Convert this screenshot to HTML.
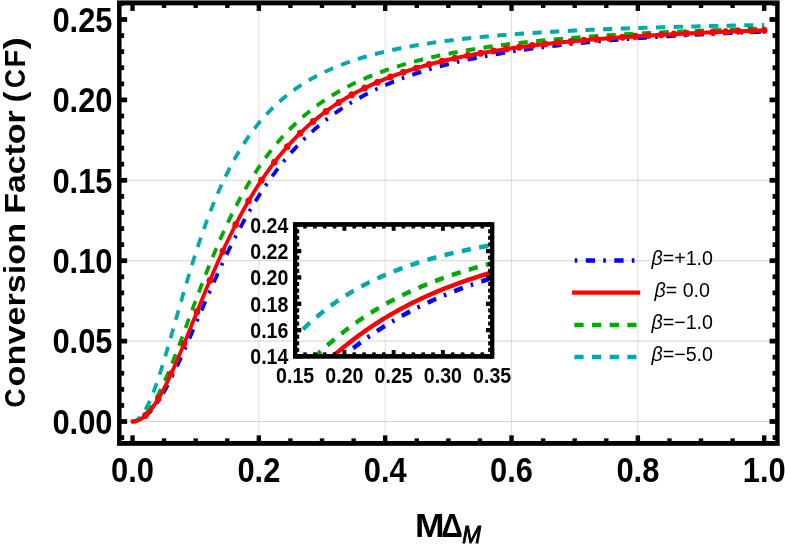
<!DOCTYPE html>
<html><head><meta charset="utf-8"><title>Conversion Factor</title>
<style>html,body{margin:0;padding:0;background:#fff}svg{display:block;will-change:transform}text{font-family:"Liberation Sans",sans-serif;fill:#000}</style>
</head><body>
<svg width="785" height="545" viewBox="0 0 785 545">
<rect x="0" y="0" width="785" height="545" fill="#ffffff"/>
<defs><clipPath id="cm"><rect x="119.30" y="2.67" width="658.10" height="405.99"/></clipPath>
<clipPath id="ci"><rect x="295.15" y="206.87" width="197.05" height="121.61"/></clipPath></defs>
<g transform="scale(1 1.0850)">
<g stroke="#d0d0d0" stroke-width="1" fill="none">
<line x1="258.84" y1="2.67" x2="258.84" y2="408.66" stroke="#dddddd"/>
<line x1="385.18" y1="2.67" x2="385.18" y2="408.66" stroke="#dddddd"/>
<line x1="511.52" y1="2.67" x2="511.52" y2="408.66" stroke="#dddddd"/>
<line x1="637.86" y1="2.67" x2="637.86" y2="408.66" stroke="#dddddd"/>
<line x1="119.30" y1="92.07" x2="777.40" y2="92.07" stroke="#ffffff"/>
<line x1="119.30" y1="388.48" x2="777.40" y2="388.48" stroke-width="0.92"/>
<line x1="119.30" y1="314.38" x2="777.40" y2="314.38" stroke-width="0.92"/>
<line x1="119.30" y1="240.28" x2="777.40" y2="240.28" stroke-width="0.92"/>
<line x1="119.30" y1="166.18" x2="777.40" y2="166.18" stroke-width="0.92"/>
</g>
<g clip-path="url(#cm)" fill="none" stroke-width="3.70">
<path d="M132.50 388.48 L134.08 388.41 L135.66 388.18 L137.24 387.81 L138.82 387.30 L140.40 386.64 L141.98 385.83 L143.55 384.88 L145.13 383.80 L146.71 382.57 L148.29 381.21 L149.87 379.72 L151.45 378.11 L153.03 376.37 L154.61 374.50 L156.19 372.52 L157.77 370.43 L159.35 368.23 L160.93 365.93 L162.51 363.53 L164.09 361.03 L165.66 358.45 L167.24 355.78 L168.82 353.03 L170.40 350.21 L171.98 347.31 L173.56 344.35 L175.14 341.33 L176.72 338.26 L178.30 335.13 L179.88 331.96 L181.46 328.75 L183.04 325.50 L184.62 322.22 L186.19 318.90 L187.77 315.57 L189.35 312.21 L190.93 308.84 L192.51 305.45 L194.09 302.06 L195.67 298.66 L197.25 295.26 L198.83 291.85 L200.41 288.45 L201.99 285.06 L203.57 281.68 L205.15 278.31 L206.72 274.95 L208.30 271.61 L209.88 268.28 L211.46 264.98 L213.04 261.69 L214.62 258.44 L216.20 255.20 L217.78 252.00 L219.36 248.82 L220.94 245.67 L222.52 242.55 L224.10 239.46 L225.68 236.41 L227.25 233.38 L228.83 230.39 L230.41 227.44 L231.99 224.52 L233.57 221.64 L235.15 218.79 L236.73 215.98 L238.31 213.20 L239.89 210.46 L241.47 207.76 L243.05 205.10 L244.63 202.47 L246.21 199.88 L247.79 197.33 L249.36 194.81 L250.94 192.33 L252.52 189.89 L254.10 187.48 L255.68 185.11 L257.26 182.77 L258.84 180.48 L260.42 178.21 L262.00 175.98 L263.58 173.79 L265.16 171.63 L266.74 169.51 L268.32 167.42 L269.89 165.36 L271.47 163.34 L273.05 161.35 L274.63 159.39 L276.21 157.46 L277.79 155.56 L279.37 153.70 L280.95 151.86 L282.53 150.06 L284.11 148.29 L285.69 146.54 L287.27 144.82 L288.85 143.14 L290.43 141.47 L292.00 139.84 L293.58 138.24 L295.16 136.66 L296.74 135.10 L298.32 133.58 L299.90 132.07 L301.48 130.60 L303.06 129.14 L304.64 127.71 L306.22 126.31 L307.80 124.93 L309.38 123.57 L310.96 122.23 L312.53 120.91 L314.11 119.62 L315.69 118.35 L317.27 117.10 L318.85 115.87 L320.43 114.65 L322.01 113.46 L323.59 112.29 L325.17 111.14 L326.75 110.01 L328.33 108.89 L329.91 107.79 L331.49 106.71 L333.06 105.65 L334.64 104.60 L336.22 103.58 L337.80 102.56 L339.38 101.57 L340.96 100.59 L342.54 99.62 L344.12 98.67 L345.70 97.74 L347.28 96.82 L348.86 95.91 L350.44 95.02 L352.02 94.14 L353.60 93.28 L355.17 92.43 L356.75 91.59 L358.33 90.77 L359.91 89.95 L361.49 89.16 L363.07 88.37 L364.65 87.59 L366.23 86.83 L367.81 86.08 L369.39 85.34 L370.97 84.61 L372.55 83.89 L374.13 83.18 L375.70 82.48 L377.28 81.80 L378.86 81.12 L380.44 80.45 L382.02 79.80 L383.60 79.15 L385.18 78.51 L386.76 77.88 L388.34 77.26 L389.92 76.65 L391.50 76.05 L393.08 75.46 L394.66 74.88 L396.23 74.30 L397.81 73.73 L399.39 73.17 L400.97 72.62 L402.55 72.08 L404.13 71.54 L405.71 71.01 L407.29 70.49 L408.87 69.97 L410.45 69.47 L412.03 68.97 L413.61 68.47 L415.19 67.99 L416.77 67.51 L418.34 67.03 L419.92 66.56 L421.50 66.10 L423.08 65.65 L424.66 65.20 L426.24 64.76 L427.82 64.32 L429.40 63.89 L430.98 63.47 L432.56 63.05 L434.14 62.63 L435.72 62.22 L437.30 61.82 L438.87 61.42 L440.45 61.03 L442.03 60.64 L443.61 60.26 L445.19 59.88 L446.77 59.51 L448.35 59.14 L449.93 58.78 L451.51 58.42 L453.09 58.06 L454.67 57.71 L456.25 57.37 L457.83 57.03 L459.40 56.69 L460.98 56.36 L462.56 56.03 L464.14 55.70 L465.72 55.38 L467.30 55.06 L468.88 54.75 L470.46 54.44 L472.04 54.14 L473.62 53.84 L475.20 53.54 L476.78 53.24 L478.36 52.95 L479.94 52.66 L481.51 52.38 L483.09 52.10 L484.67 51.82 L486.25 51.55 L487.83 51.28 L489.41 51.01 L490.99 50.74 L492.57 50.48 L494.15 50.22 L495.73 49.97 L497.31 49.72 L498.89 49.47 L500.47 49.22 L502.04 48.97 L503.62 48.73 L505.20 48.49 L506.78 48.26 L508.36 48.02 L509.94 47.79 L511.52 47.57 L513.10 47.34 L514.68 47.12 L516.26 46.90 L517.84 46.68 L519.42 46.46 L521.00 46.25 L522.57 46.04 L524.15 45.83 L525.73 45.62 L527.31 45.42 L528.89 45.22 L530.47 45.02 L532.05 44.82 L533.63 44.62 L535.21 44.43 L536.79 44.24 L538.37 44.05 L539.95 43.86 L541.53 43.67 L543.11 43.49 L544.68 43.31 L546.26 43.13 L547.84 42.95 L549.42 42.77 L551.00 42.60 L552.58 42.43 L554.16 42.26 L555.74 42.09 L557.32 41.92 L558.90 41.75 L560.48 41.59 L562.06 41.43 L563.64 41.27 L565.21 41.11 L566.79 40.95 L568.37 40.79 L569.95 40.64 L571.53 40.49 L573.11 40.33 L574.69 40.18 L576.27 40.04 L577.85 39.89 L579.43 39.74 L581.01 39.60 L582.59 39.46 L584.17 39.32 L585.74 39.18 L587.32 39.04 L588.90 38.90 L590.48 38.76 L592.06 38.63 L593.64 38.50 L595.22 38.36 L596.80 38.23 L598.38 38.10 L599.96 37.97 L601.54 37.85 L603.12 37.72 L604.70 37.60 L606.28 37.47 L607.85 37.35 L609.43 37.23 L611.01 37.11 L612.59 36.99 L614.17 36.87 L615.75 36.75 L617.33 36.64 L618.91 36.52 L620.49 36.41 L622.07 36.30 L623.65 36.18 L625.23 36.07 L626.81 35.96 L628.38 35.85 L629.96 35.75 L631.54 35.64 L633.12 35.53 L634.70 35.43 L636.28 35.32 L637.86 35.22 L639.44 35.12 L641.02 35.02 L642.60 34.92 L644.18 34.82 L645.76 34.72 L647.34 34.62 L648.91 34.52 L650.49 34.43 L652.07 34.33 L653.65 34.24 L655.23 34.14 L656.81 34.05 L658.39 33.96 L659.97 33.87 L661.55 33.78 L663.13 33.69 L664.71 33.60 L666.29 33.51 L667.87 33.42 L669.45 33.33 L671.02 33.25 L672.60 33.16 L674.18 33.08 L675.76 32.99 L677.34 32.91 L678.92 32.83 L680.50 32.74 L682.08 32.66 L683.66 32.58 L685.24 32.50 L686.82 32.42 L688.40 32.34 L689.98 32.27 L691.55 32.19 L693.13 32.11 L694.71 32.03 L696.29 31.96 L697.87 31.88 L699.45 31.81 L701.03 31.74 L702.61 31.66 L704.19 31.59 L705.77 31.52 L707.35 31.45 L708.93 31.37 L710.51 31.30 L712.08 31.23 L713.66 31.16 L715.24 31.10 L716.82 31.03 L718.40 30.96 L719.98 30.89 L721.56 30.83 L723.14 30.76 L724.72 30.69 L726.30 30.63 L727.88 30.56 L729.46 30.50 L731.04 30.44 L732.62 30.37 L734.19 30.31 L735.77 30.25 L737.35 30.19 L738.93 30.12 L740.51 30.06 L742.09 30.00 L743.67 29.94 L745.25 29.88 L746.83 29.82 L748.41 29.76 L749.99 29.71 L751.57 29.65 L753.15 29.59 L754.72 29.53 L756.30 29.48 L757.88 29.42 L759.46 29.36 L761.04 29.31 L762.62 29.25 L764.20 29.20" stroke="#0000ff" stroke-dasharray="2.6 8.45 9.3 8.2" stroke-dashoffset="-2.0"/>
<path d="M132.50 388.48 L134.08 388.38 L135.66 388.08 L137.24 387.59 L138.82 386.89 L140.40 386.01 L141.98 384.93 L143.55 383.66 L145.13 382.21 L146.71 380.59 L148.29 378.78 L149.87 376.81 L151.45 374.67 L153.03 372.38 L154.61 369.94 L156.19 367.35 L157.77 364.63 L159.35 361.78 L160.93 358.80 L162.51 355.71 L164.09 352.52 L165.66 349.22 L167.24 345.83 L168.82 342.36 L170.40 338.81 L171.98 335.20 L173.56 331.52 L175.14 327.78 L176.72 324.00 L178.30 320.18 L179.88 316.32 L181.46 312.43 L183.04 308.52 L184.62 304.59 L186.19 300.66 L187.77 296.71 L189.35 292.77 L190.93 288.83 L192.51 284.89 L194.09 280.97 L195.67 277.07 L197.25 273.18 L198.83 269.32 L200.41 265.49 L201.99 261.68 L203.57 257.90 L205.15 254.16 L206.72 250.46 L208.30 246.79 L209.88 243.17 L211.46 239.58 L213.04 236.04 L214.62 232.55 L216.20 229.10 L217.78 225.69 L219.36 222.34 L220.94 219.03 L222.52 215.77 L224.10 212.56 L225.68 209.40 L227.25 206.29 L228.83 203.22 L230.41 200.21 L231.99 197.25 L233.57 194.34 L235.15 191.47 L236.73 188.66 L238.31 185.89 L239.89 183.18 L241.47 180.51 L243.05 177.89 L244.63 175.32 L246.21 172.79 L247.79 170.31 L249.36 167.87 L250.94 165.48 L252.52 163.14 L254.10 160.84 L255.68 158.58 L257.26 156.36 L258.84 154.19 L260.42 152.06 L262.00 149.96 L263.58 147.91 L265.16 145.90 L266.74 143.92 L268.32 141.98 L269.89 140.08 L271.47 138.22 L273.05 136.39 L274.63 134.60 L276.21 132.84 L277.79 131.11 L279.37 129.42 L280.95 127.76 L282.53 126.13 L284.11 124.54 L285.69 122.97 L287.27 121.43 L288.85 119.93 L290.43 118.45 L292.00 117.00 L293.58 115.57 L295.16 114.18 L296.74 112.81 L298.32 111.46 L299.90 110.15 L301.48 108.85 L303.06 107.58 L304.64 106.34 L306.22 105.11 L307.80 103.91 L309.38 102.73 L310.96 101.58 L312.53 100.44 L314.11 99.33 L315.69 98.23 L317.27 97.16 L318.85 96.10 L320.43 95.07 L322.01 94.05 L323.59 93.05 L325.17 92.07 L326.75 91.11 L328.33 90.16 L329.91 89.23 L331.49 88.32 L333.06 87.43 L334.64 86.54 L336.22 85.68 L337.80 84.83 L339.38 83.99 L340.96 83.17 L342.54 82.36 L344.12 81.57 L345.70 80.79 L347.28 80.03 L348.86 79.27 L350.44 78.53 L352.02 77.80 L353.60 77.09 L355.17 76.38 L356.75 75.69 L358.33 75.01 L359.91 74.34 L361.49 73.68 L363.07 73.04 L364.65 72.40 L366.23 71.77 L367.81 71.16 L369.39 70.55 L370.97 69.95 L372.55 69.37 L374.13 68.79 L375.70 68.22 L377.28 67.66 L378.86 67.11 L380.44 66.57 L382.02 66.03 L383.60 65.51 L385.18 64.99 L386.76 64.48 L388.34 63.98 L389.92 63.49 L391.50 63.00 L393.08 62.52 L394.66 62.05 L396.23 61.59 L397.81 61.13 L399.39 60.68 L400.97 60.23 L402.55 59.80 L404.13 59.37 L405.71 58.94 L407.29 58.52 L408.87 58.11 L410.45 57.71 L412.03 57.31 L413.61 56.91 L415.19 56.52 L416.77 56.14 L418.34 55.76 L419.92 55.39 L421.50 55.02 L423.08 54.66 L424.66 54.30 L426.24 53.95 L427.82 53.61 L429.40 53.26 L430.98 52.93 L432.56 52.59 L434.14 52.26 L435.72 51.94 L437.30 51.62 L438.87 51.31 L440.45 51.00 L442.03 50.69 L443.61 50.39 L445.19 50.09 L446.77 49.80 L448.35 49.50 L449.93 49.22 L451.51 48.94 L453.09 48.66 L454.67 48.38 L456.25 48.11 L457.83 47.84 L459.40 47.58 L460.98 47.31 L462.56 47.06 L464.14 46.80 L465.72 46.55 L467.30 46.30 L468.88 46.06 L470.46 45.81 L472.04 45.57 L473.62 45.34 L475.20 45.11 L476.78 44.88 L478.36 44.65 L479.94 44.42 L481.51 44.20 L483.09 43.98 L484.67 43.77 L486.25 43.55 L487.83 43.34 L489.41 43.13 L490.99 42.92 L492.57 42.72 L494.15 42.52 L495.73 42.32 L497.31 42.12 L498.89 41.93 L500.47 41.74 L502.04 41.55 L503.62 41.36 L505.20 41.18 L506.78 40.99 L508.36 40.81 L509.94 40.63 L511.52 40.45 L513.10 40.28 L514.68 40.11 L516.26 39.94 L517.84 39.77 L519.42 39.60 L521.00 39.43 L522.57 39.27 L524.15 39.11 L525.73 38.95 L527.31 38.79 L528.89 38.63 L530.47 38.48 L532.05 38.33 L533.63 38.18 L535.21 38.03 L536.79 37.88 L538.37 37.73 L539.95 37.59 L541.53 37.44 L543.11 37.30 L544.68 37.16 L546.26 37.02 L547.84 36.89 L549.42 36.75 L551.00 36.62 L552.58 36.48 L554.16 36.35 L555.74 36.22 L557.32 36.09 L558.90 35.97 L560.48 35.84 L562.06 35.71 L563.64 35.59 L565.21 35.47 L566.79 35.35 L568.37 35.23 L569.95 35.11 L571.53 34.99 L573.11 34.88 L574.69 34.76 L576.27 34.65 L577.85 34.53 L579.43 34.42 L581.01 34.31 L582.59 34.20 L584.17 34.09 L585.74 33.99 L587.32 33.88 L588.90 33.77 L590.48 33.67 L592.06 33.57 L593.64 33.47 L595.22 33.36 L596.80 33.26 L598.38 33.16 L599.96 33.07 L601.54 32.97 L603.12 32.87 L604.70 32.78 L606.28 32.68 L607.85 32.59 L609.43 32.50 L611.01 32.40 L612.59 32.31 L614.17 32.22 L615.75 32.13 L617.33 32.04 L618.91 31.96 L620.49 31.87 L622.07 31.78 L623.65 31.70 L625.23 31.61 L626.81 31.53 L628.38 31.45 L629.96 31.36 L631.54 31.28 L633.12 31.20 L634.70 31.12 L636.28 31.04 L637.86 30.96 L639.44 30.89 L641.02 30.81 L642.60 30.73 L644.18 30.66 L645.76 30.58 L647.34 30.51 L648.91 30.43 L650.49 30.36 L652.07 30.29 L653.65 30.21 L655.23 30.14 L656.81 30.07 L658.39 30.00 L659.97 29.93 L661.55 29.86 L663.13 29.79 L664.71 29.73 L666.29 29.66 L667.87 29.59 L669.45 29.53 L671.02 29.46 L672.60 29.40 L674.18 29.33 L675.76 29.27 L677.34 29.20 L678.92 29.14 L680.50 29.08 L682.08 29.02 L683.66 28.96 L685.24 28.89 L686.82 28.83 L688.40 28.77 L689.98 28.72 L691.55 28.66 L693.13 28.60 L694.71 28.54 L696.29 28.48 L697.87 28.43 L699.45 28.37 L701.03 28.31 L702.61 28.26 L704.19 28.20 L705.77 28.15 L707.35 28.09 L708.93 28.04 L710.51 27.99 L712.08 27.93 L713.66 27.88 L715.24 27.83 L716.82 27.78 L718.40 27.72 L719.98 27.67 L721.56 27.62 L723.14 27.57 L724.72 27.52 L726.30 27.47 L727.88 27.42 L729.46 27.38 L731.04 27.33 L732.62 27.28 L734.19 27.23 L735.77 27.19 L737.35 27.14 L738.93 27.09 L740.51 27.05 L742.09 27.00 L743.67 26.95 L745.25 26.91 L746.83 26.86 L748.41 26.82 L749.99 26.78 L751.57 26.73 L753.15 26.69 L754.72 26.65 L756.30 26.60 L757.88 26.56 L759.46 26.52 L761.04 26.48 L762.62 26.43 L764.20 26.39" stroke="#00aa00" stroke-dasharray="9.2 8.46" stroke-dashoffset="1.5"/>
<path d="M132.50 388.48 L134.08 388.31 L135.66 387.81 L137.24 386.98 L138.82 385.83 L140.40 384.36 L141.98 382.57 L143.55 380.49 L145.13 378.11 L146.71 375.45 L148.29 372.52 L149.87 369.35 L151.45 365.93 L153.03 362.29 L154.61 358.45 L156.19 354.41 L157.77 350.21 L159.35 345.84 L160.93 341.33 L162.51 336.70 L164.09 331.96 L165.66 327.13 L167.24 322.22 L168.82 317.24 L170.40 312.21 L171.98 307.15 L173.56 302.06 L175.14 296.96 L176.72 291.85 L178.30 286.76 L179.88 281.68 L181.46 276.62 L183.04 271.61 L184.62 266.63 L186.19 261.69 L187.77 256.82 L189.35 252.00 L190.93 247.24 L192.51 242.55 L194.09 237.93 L195.67 233.38 L197.25 228.91 L198.83 224.52 L200.41 220.21 L201.99 215.98 L203.57 211.83 L205.15 207.76 L206.72 203.78 L208.30 199.88 L209.88 196.06 L211.46 192.33 L213.04 188.68 L214.62 185.11 L216.20 181.62 L217.78 178.21 L219.36 174.88 L220.94 171.63 L222.52 168.46 L224.10 165.36 L225.68 162.34 L227.25 159.39 L228.83 156.51 L230.41 153.70 L231.99 150.96 L233.57 148.29 L235.15 145.68 L236.73 143.14 L238.31 140.65 L239.89 138.24 L241.47 135.88 L243.05 133.58 L244.63 131.33 L246.21 129.14 L247.79 127.01 L249.36 124.93 L250.94 122.89 L252.52 120.91 L254.10 118.98 L255.68 117.10 L257.26 115.26 L258.84 113.46 L260.42 111.71 L262.00 110.01 L263.58 108.34 L265.16 106.71 L266.74 105.12 L268.32 103.58 L269.89 102.06 L271.47 100.59 L273.05 99.14 L274.63 97.74 L276.21 96.36 L277.79 95.02 L279.37 93.71 L280.95 92.43 L282.53 91.18 L284.11 89.95 L285.69 88.76 L287.27 87.59 L288.85 86.45 L290.43 85.34 L292.00 84.25 L293.58 83.18 L295.16 82.14 L296.74 81.12 L298.32 80.12 L299.90 79.15 L301.48 78.20 L303.06 77.26 L304.64 76.35 L306.22 75.46 L307.80 74.59 L309.38 73.73 L310.96 72.89 L312.53 72.08 L314.11 71.27 L315.69 70.49 L317.27 69.72 L318.85 68.97 L320.43 68.23 L322.01 67.51 L323.59 66.80 L325.17 66.10 L326.75 65.42 L328.33 64.76 L329.91 64.11 L331.49 63.47 L333.06 62.84 L334.64 62.22 L336.22 61.62 L337.80 61.03 L339.38 60.45 L340.96 59.88 L342.54 59.32 L344.12 58.78 L345.70 58.24 L347.28 57.71 L348.86 57.20 L350.44 56.69 L352.02 56.19 L353.60 55.70 L355.17 55.22 L356.75 54.75 L358.33 54.29 L359.91 53.84 L361.49 53.39 L363.07 52.95 L364.65 52.52 L366.23 52.10 L367.81 51.68 L369.39 51.28 L370.97 50.88 L372.55 50.48 L374.13 50.10 L375.70 49.72 L377.28 49.34 L378.86 48.97 L380.44 48.61 L382.02 48.26 L383.60 47.91 L385.18 47.57 L386.76 47.23 L388.34 46.90 L389.92 46.57 L391.50 46.25 L393.08 45.93 L394.66 45.62 L396.23 45.32 L397.81 45.02 L399.39 44.72 L400.97 44.43 L402.55 44.14 L404.13 43.86 L405.71 43.58 L407.29 43.31 L408.87 43.04 L410.45 42.77 L412.03 42.51 L413.61 42.26 L415.19 42.00 L416.77 41.75 L418.34 41.51 L419.92 41.27 L421.50 41.03 L423.08 40.79 L424.66 40.56 L426.24 40.33 L427.82 40.11 L429.40 39.89 L430.98 39.67 L432.56 39.46 L434.14 39.25 L435.72 39.04 L437.30 38.83 L438.87 38.63 L440.45 38.43 L442.03 38.23 L443.61 38.04 L445.19 37.85 L446.77 37.66 L448.35 37.47 L449.93 37.29 L451.51 37.11 L453.09 36.93 L454.67 36.75 L456.25 36.58 L457.83 36.41 L459.40 36.24 L460.98 36.07 L462.56 35.91 L464.14 35.75 L465.72 35.59 L467.30 35.43 L468.88 35.27 L470.46 35.12 L472.04 34.97 L473.62 34.82 L475.20 34.67 L476.78 34.52 L478.36 34.38 L479.94 34.24 L481.51 34.10 L483.09 33.96 L484.67 33.82 L486.25 33.69 L487.83 33.55 L489.41 33.42 L490.99 33.29 L492.57 33.16 L494.15 33.03 L495.73 32.91 L497.31 32.79 L498.89 32.66 L500.47 32.54 L502.04 32.42 L503.62 32.30 L505.20 32.19 L506.78 32.07 L508.36 31.96 L509.94 31.85 L511.52 31.74 L513.10 31.63 L514.68 31.52 L516.26 31.41 L517.84 31.30 L519.42 31.20 L521.00 31.10 L522.57 30.99 L524.15 30.89 L525.73 30.79 L527.31 30.69 L528.89 30.60 L530.47 30.50 L532.05 30.40 L533.63 30.31 L535.21 30.22 L536.79 30.12 L538.37 30.03 L539.95 29.94 L541.53 29.85 L543.11 29.76 L544.68 29.68 L546.26 29.59 L547.84 29.51 L549.42 29.42 L551.00 29.34 L552.58 29.25 L554.16 29.17 L555.74 29.09 L557.32 29.01 L558.90 28.93 L560.48 28.85 L562.06 28.78 L563.64 28.70 L565.21 28.62 L566.79 28.55 L568.37 28.47 L569.95 28.40 L571.53 28.33 L573.11 28.26 L574.69 28.18 L576.27 28.11 L577.85 28.04 L579.43 27.98 L581.01 27.91 L582.59 27.84 L584.17 27.77 L585.74 27.71 L587.32 27.64 L588.90 27.57 L590.48 27.51 L592.06 27.45 L593.64 27.38 L595.22 27.32 L596.80 27.26 L598.38 27.20 L599.96 27.14 L601.54 27.08 L603.12 27.02 L604.70 26.96 L606.28 26.90 L607.85 26.84 L609.43 26.79 L611.01 26.73 L612.59 26.67 L614.17 26.62 L615.75 26.56 L617.33 26.51 L618.91 26.45 L620.49 26.40 L622.07 26.35 L623.65 26.29 L625.23 26.24 L626.81 26.19 L628.38 26.14 L629.96 26.09 L631.54 26.04 L633.12 25.99 L634.70 25.94 L636.28 25.89 L637.86 25.84 L639.44 25.79 L641.02 25.75 L642.60 25.70 L644.18 25.65 L645.76 25.61 L647.34 25.56 L648.91 25.52 L650.49 25.47 L652.07 25.43 L653.65 25.38 L655.23 25.34 L656.81 25.29 L658.39 25.25 L659.97 25.21 L661.55 25.17 L663.13 25.12 L664.71 25.08 L666.29 25.04 L667.87 25.00 L669.45 24.96 L671.02 24.92 L672.60 24.88 L674.18 24.84 L675.76 24.80 L677.34 24.76 L678.92 24.72 L680.50 24.69 L682.08 24.65 L683.66 24.61 L685.24 24.57 L686.82 24.54 L688.40 24.50 L689.98 24.46 L691.55 24.43 L693.13 24.39 L694.71 24.36 L696.29 24.32 L697.87 24.29 L699.45 24.25 L701.03 24.22 L702.61 24.18 L704.19 24.15 L705.77 24.12 L707.35 24.08 L708.93 24.05 L710.51 24.02 L712.08 23.99 L713.66 23.95 L715.24 23.92 L716.82 23.89 L718.40 23.86 L719.98 23.83 L721.56 23.80 L723.14 23.77 L724.72 23.74 L726.30 23.71 L727.88 23.68 L729.46 23.65 L731.04 23.62 L732.62 23.59 L734.19 23.56 L735.77 23.53 L737.35 23.50 L738.93 23.47 L740.51 23.45 L742.09 23.42 L743.67 23.39 L745.25 23.36 L746.83 23.33 L748.41 23.31 L749.99 23.28 L751.57 23.25 L753.15 23.23 L754.72 23.20 L756.30 23.18 L757.88 23.15 L759.46 23.12 L761.04 23.10 L762.62 23.07 L764.20 23.05" stroke="#00aaaa" stroke-dasharray="9.2 8.46" stroke-dashoffset="0"/>
<path d="M132.50 388.48 L134.08 388.40 L135.66 388.15 L137.24 387.73 L138.82 387.15 L140.40 386.41 L141.98 385.50 L143.55 384.44 L145.13 383.22 L146.71 381.85 L148.29 380.33 L149.87 378.66 L151.45 376.85 L153.03 374.91 L154.61 372.83 L156.19 370.63 L157.77 368.30 L159.35 365.86 L160.93 363.30 L162.51 360.65 L164.09 357.89 L165.66 355.03 L167.24 352.09 L168.82 349.07 L170.40 345.97 L171.98 342.80 L173.56 339.57 L175.14 336.27 L176.72 332.92 L178.30 329.53 L179.88 326.09 L181.46 322.61 L183.04 319.10 L184.62 315.56 L186.19 312.00 L187.77 308.42 L189.35 304.83 L190.93 301.23 L192.51 297.62 L194.09 294.01 L195.67 290.40 L197.25 286.80 L198.83 283.21 L200.41 279.63 L201.99 276.06 L203.57 272.51 L205.15 268.98 L206.72 265.47 L208.30 261.98 L209.88 258.53 L211.46 255.10 L213.04 251.70 L214.62 248.33 L216.20 245.00 L217.78 241.69 L219.36 238.43 L220.94 235.20 L222.52 232.01 L224.10 228.86 L225.68 225.75 L227.25 222.67 L228.83 219.64 L230.41 216.65 L231.99 213.69 L233.57 210.78 L235.15 207.92 L236.73 205.09 L238.31 202.30 L239.89 199.56 L241.47 196.86 L243.05 194.19 L244.63 191.57 L246.21 189.00 L247.79 186.46 L249.36 183.96 L250.94 181.51 L252.52 179.09 L254.10 176.71 L255.68 174.38 L257.26 172.08 L258.84 169.82 L260.42 167.60 L262.00 165.41 L263.58 163.27 L265.16 161.16 L266.74 159.08 L268.32 157.05 L269.89 155.04 L271.47 153.08 L273.05 151.14 L274.63 149.24 L276.21 147.37 L277.79 145.54 L279.37 143.74 L280.95 141.97 L282.53 140.23 L284.11 138.52 L285.69 136.84 L287.27 135.19 L288.85 133.57 L290.43 131.97 L292.00 130.41 L293.58 128.87 L295.16 127.36 L296.74 125.88 L298.32 124.42 L299.90 122.99 L301.48 121.58 L303.06 120.20 L304.64 118.84 L306.22 117.50 L307.80 116.19 L309.38 114.90 L310.96 113.64 L312.53 112.39 L314.11 111.17 L315.69 109.96 L317.27 108.78 L318.85 107.62 L320.43 106.48 L322.01 105.36 L323.59 104.25 L325.17 103.17 L326.75 102.10 L328.33 101.05 L329.91 100.02 L331.49 99.01 L333.06 98.01 L334.64 97.03 L336.22 96.07 L337.80 95.12 L339.38 94.19 L340.96 93.27 L342.54 92.37 L344.12 91.48 L345.70 90.61 L347.28 89.75 L348.86 88.91 L350.44 88.08 L352.02 87.26 L353.60 86.46 L355.17 85.67 L356.75 84.89 L358.33 84.12 L359.91 83.37 L361.49 82.63 L363.07 81.90 L364.65 81.18 L366.23 80.47 L367.81 79.77 L369.39 79.09 L370.97 78.41 L372.55 77.75 L374.13 77.09 L375.70 76.45 L377.28 75.81 L378.86 75.19 L380.44 74.57 L382.02 73.97 L383.60 73.37 L385.18 72.78 L386.76 72.20 L388.34 71.63 L389.92 71.07 L391.50 70.51 L393.08 69.97 L394.66 69.43 L396.23 68.90 L397.81 68.38 L399.39 67.86 L400.97 67.36 L402.55 66.86 L404.13 66.36 L405.71 65.88 L407.29 65.40 L408.87 64.93 L410.45 64.46 L412.03 64.00 L413.61 63.55 L415.19 63.11 L416.77 62.67 L418.34 62.23 L419.92 61.80 L421.50 61.38 L423.08 60.97 L424.66 60.56 L426.24 60.15 L427.82 59.75 L429.40 59.36 L430.98 58.97 L432.56 58.59 L434.14 58.21 L435.72 57.84 L437.30 57.47 L438.87 57.10 L440.45 56.75 L442.03 56.39 L443.61 56.04 L445.19 55.70 L446.77 55.36 L448.35 55.02 L449.93 54.69 L451.51 54.36 L453.09 54.04 L454.67 53.72 L456.25 53.41 L457.83 53.10 L459.40 52.79 L460.98 52.49 L462.56 52.19 L464.14 51.89 L465.72 51.60 L467.30 51.31 L468.88 51.03 L470.46 50.75 L472.04 50.47 L473.62 50.20 L475.20 49.93 L476.78 49.66 L478.36 49.39 L479.94 49.13 L481.51 48.88 L483.09 48.62 L484.67 48.37 L486.25 48.12 L487.83 47.87 L489.41 47.63 L490.99 47.39 L492.57 47.15 L494.15 46.92 L495.73 46.69 L497.31 46.46 L498.89 46.23 L500.47 46.01 L502.04 45.79 L503.62 45.57 L505.20 45.35 L506.78 45.14 L508.36 44.93 L509.94 44.72 L511.52 44.51 L513.10 44.31 L514.68 44.11 L516.26 43.91 L517.84 43.71 L519.42 43.51 L521.00 43.32 L522.57 43.13 L524.15 42.94 L525.73 42.76 L527.31 42.57 L528.89 42.39 L530.47 42.21 L532.05 42.03 L533.63 41.85 L535.21 41.68 L536.79 41.50 L538.37 41.33 L539.95 41.16 L541.53 40.99 L543.11 40.83 L544.68 40.66 L546.26 40.50 L547.84 40.34 L549.42 40.18 L551.00 40.03 L552.58 39.87 L554.16 39.72 L555.74 39.56 L557.32 39.41 L558.90 39.26 L560.48 39.11 L562.06 38.97 L563.64 38.82 L565.21 38.68 L566.79 38.54 L568.37 38.40 L569.95 38.26 L571.53 38.12 L573.11 37.98 L574.69 37.85 L576.27 37.72 L577.85 37.58 L579.43 37.45 L581.01 37.32 L582.59 37.19 L584.17 37.07 L585.74 36.94 L587.32 36.82 L588.90 36.69 L590.48 36.57 L592.06 36.45 L593.64 36.33 L595.22 36.21 L596.80 36.09 L598.38 35.98 L599.96 35.86 L601.54 35.75 L603.12 35.63 L604.70 35.52 L606.28 35.41 L607.85 35.30 L609.43 35.19 L611.01 35.08 L612.59 34.97 L614.17 34.87 L615.75 34.76 L617.33 34.66 L618.91 34.55 L620.49 34.45 L622.07 34.35 L623.65 34.25 L625.23 34.15 L626.81 34.05 L628.38 33.95 L629.96 33.86 L631.54 33.76 L633.12 33.67 L634.70 33.57 L636.28 33.48 L637.86 33.38 L639.44 33.29 L641.02 33.20 L642.60 33.11 L644.18 33.02 L645.76 32.93 L647.34 32.84 L648.91 32.76 L650.49 32.67 L652.07 32.59 L653.65 32.50 L655.23 32.42 L656.81 32.33 L658.39 32.25 L659.97 32.17 L661.55 32.09 L663.13 32.01 L664.71 31.93 L666.29 31.85 L667.87 31.77 L669.45 31.69 L671.02 31.61 L672.60 31.54 L674.18 31.46 L675.76 31.38 L677.34 31.31 L678.92 31.24 L680.50 31.16 L682.08 31.09 L683.66 31.02 L685.24 30.94 L686.82 30.87 L688.40 30.80 L689.98 30.73 L691.55 30.66 L693.13 30.59 L694.71 30.53 L696.29 30.46 L697.87 30.39 L699.45 30.32 L701.03 30.26 L702.61 30.19 L704.19 30.13 L705.77 30.06 L707.35 30.00 L708.93 29.93 L710.51 29.87 L712.08 29.81 L713.66 29.75 L715.24 29.68 L716.82 29.62 L718.40 29.56 L719.98 29.50 L721.56 29.44 L723.14 29.38 L724.72 29.32 L726.30 29.26 L727.88 29.21 L729.46 29.15 L731.04 29.09 L732.62 29.04 L734.19 28.98 L735.77 28.92 L737.35 28.87 L738.93 28.81 L740.51 28.76 L742.09 28.70 L743.67 28.65 L745.25 28.60 L746.83 28.54 L748.41 28.49 L749.99 28.44 L751.57 28.39 L753.15 28.34 L754.72 28.28 L756.30 28.23 L757.88 28.18 L759.46 28.13 L761.04 28.08 L762.62 28.03 L764.20 27.99" stroke="#ff0000" stroke-linecap="square"/>
</g>
<g fill="#ff0000">
<circle cx="145.39" cy="383.01" r="3.25"/>
<circle cx="158.28" cy="367.52" r="3.25"/>
<circle cx="171.18" cy="344.43" r="3.25"/>
<circle cx="184.07" cy="316.79" r="3.25"/>
<circle cx="196.96" cy="287.46" r="3.25"/>
<circle cx="209.85" cy="258.60" r="3.25"/>
<circle cx="222.74" cy="231.56" r="3.25"/>
<circle cx="235.63" cy="207.05" r="3.25"/>
<circle cx="248.53" cy="185.28" r="3.25"/>
<circle cx="261.42" cy="166.21" r="3.25"/>
<circle cx="274.31" cy="149.63" r="3.25"/>
<circle cx="287.20" cy="135.25" r="3.25"/>
<circle cx="300.09" cy="122.81" r="3.25"/>
<circle cx="312.99" cy="112.04" r="3.25"/>
<circle cx="325.88" cy="102.69" r="3.25"/>
<circle cx="338.77" cy="94.55" r="3.25"/>
<circle cx="351.66" cy="87.44" r="3.25"/>
<circle cx="364.55" cy="81.22" r="3.25"/>
<circle cx="377.44" cy="75.75" r="3.25"/>
<circle cx="390.34" cy="70.92" r="3.25"/>
<circle cx="403.23" cy="66.64" r="3.25"/>
<circle cx="416.12" cy="62.84" r="3.25"/>
<circle cx="429.01" cy="59.45" r="3.25"/>
<circle cx="441.90" cy="56.42" r="3.25"/>
<circle cx="454.80" cy="53.70" r="3.25"/>
<circle cx="467.69" cy="51.24" r="3.25"/>
<circle cx="480.58" cy="49.03" r="3.25"/>
<circle cx="493.47" cy="47.02" r="3.25"/>
<circle cx="506.36" cy="45.20" r="3.25"/>
<circle cx="519.26" cy="43.53" r="3.25"/>
<circle cx="532.15" cy="42.02" r="3.25"/>
<circle cx="545.04" cy="40.63" r="3.25"/>
<circle cx="557.93" cy="39.35" r="3.25"/>
<circle cx="570.82" cy="38.18" r="3.25"/>
<circle cx="583.71" cy="37.10" r="3.25"/>
<circle cx="596.61" cy="36.11" r="3.25"/>
<circle cx="609.50" cy="35.18" r="3.25"/>
<circle cx="622.39" cy="34.33" r="3.25"/>
<circle cx="635.28" cy="33.54" r="3.25"/>
<circle cx="648.17" cy="32.80" r="3.25"/>
<circle cx="661.07" cy="32.11" r="3.25"/>
<circle cx="673.96" cy="31.47" r="3.25"/>
<circle cx="686.85" cy="30.87" r="3.25"/>
<circle cx="699.74" cy="30.31" r="3.25"/>
<circle cx="712.63" cy="29.79" r="3.25"/>
<circle cx="725.52" cy="29.29" r="3.25"/>
<circle cx="738.42" cy="28.83" r="3.25"/>
<circle cx="751.31" cy="28.40" r="3.25"/>
<circle cx="764.20" cy="27.99" r="3.25"/>
</g>
<rect x="119.30" y="2.67" width="658.10" height="405.99" fill="none" stroke="#000" stroke-width="4.50"/>
<g stroke="#000" stroke-width="4.4" fill="none">
<line x1="132.50" y1="408.66" x2="132.50" y2="401.25" stroke-width="4.4"/>
<line x1="132.50" y1="2.67" x2="132.50" y2="10.08" stroke-width="4.4"/>
<line x1="164.09" y1="408.66" x2="164.09" y2="404.02" stroke-width="4.4"/>
<line x1="164.09" y1="2.67" x2="164.09" y2="7.32" stroke-width="4.4"/>
<line x1="195.67" y1="408.66" x2="195.67" y2="404.02" stroke-width="4.4"/>
<line x1="195.67" y1="2.67" x2="195.67" y2="7.32" stroke-width="4.4"/>
<line x1="227.26" y1="408.66" x2="227.26" y2="404.02" stroke-width="4.4"/>
<line x1="227.26" y1="2.67" x2="227.26" y2="7.32" stroke-width="4.4"/>
<line x1="258.84" y1="408.66" x2="258.84" y2="401.25" stroke-width="4.4"/>
<line x1="258.84" y1="2.67" x2="258.84" y2="10.08" stroke-width="4.4"/>
<line x1="290.43" y1="408.66" x2="290.43" y2="404.02" stroke-width="4.4"/>
<line x1="290.43" y1="2.67" x2="290.43" y2="7.32" stroke-width="4.4"/>
<line x1="322.01" y1="408.66" x2="322.01" y2="404.02" stroke-width="4.4"/>
<line x1="322.01" y1="2.67" x2="322.01" y2="7.32" stroke-width="4.4"/>
<line x1="353.60" y1="408.66" x2="353.60" y2="404.02" stroke-width="4.4"/>
<line x1="353.60" y1="2.67" x2="353.60" y2="7.32" stroke-width="4.4"/>
<line x1="385.18" y1="408.66" x2="385.18" y2="401.25" stroke-width="4.4"/>
<line x1="385.18" y1="2.67" x2="385.18" y2="10.08" stroke-width="4.4"/>
<line x1="416.77" y1="408.66" x2="416.77" y2="404.02" stroke-width="4.4"/>
<line x1="416.77" y1="2.67" x2="416.77" y2="7.32" stroke-width="4.4"/>
<line x1="448.35" y1="408.66" x2="448.35" y2="404.02" stroke-width="4.4"/>
<line x1="448.35" y1="2.67" x2="448.35" y2="7.32" stroke-width="4.4"/>
<line x1="479.94" y1="408.66" x2="479.94" y2="404.02" stroke-width="4.4"/>
<line x1="479.94" y1="2.67" x2="479.94" y2="7.32" stroke-width="4.4"/>
<line x1="511.52" y1="408.66" x2="511.52" y2="401.25" stroke-width="4.4"/>
<line x1="511.52" y1="2.67" x2="511.52" y2="10.08" stroke-width="4.4"/>
<line x1="543.11" y1="408.66" x2="543.11" y2="404.02" stroke-width="4.4"/>
<line x1="543.11" y1="2.67" x2="543.11" y2="7.32" stroke-width="4.4"/>
<line x1="574.69" y1="408.66" x2="574.69" y2="404.02" stroke-width="4.4"/>
<line x1="574.69" y1="2.67" x2="574.69" y2="7.32" stroke-width="4.4"/>
<line x1="606.28" y1="408.66" x2="606.28" y2="404.02" stroke-width="4.4"/>
<line x1="606.28" y1="2.67" x2="606.28" y2="7.32" stroke-width="4.4"/>
<line x1="637.86" y1="408.66" x2="637.86" y2="401.25" stroke-width="4.4"/>
<line x1="637.86" y1="2.67" x2="637.86" y2="10.08" stroke-width="4.4"/>
<line x1="669.45" y1="408.66" x2="669.45" y2="404.02" stroke-width="4.4"/>
<line x1="669.45" y1="2.67" x2="669.45" y2="7.32" stroke-width="4.4"/>
<line x1="701.03" y1="408.66" x2="701.03" y2="404.02" stroke-width="4.4"/>
<line x1="701.03" y1="2.67" x2="701.03" y2="7.32" stroke-width="4.4"/>
<line x1="732.62" y1="408.66" x2="732.62" y2="404.02" stroke-width="4.4"/>
<line x1="732.62" y1="2.67" x2="732.62" y2="7.32" stroke-width="4.4"/>
<line x1="764.20" y1="408.66" x2="764.20" y2="401.25" stroke-width="4.4"/>
<line x1="764.20" y1="2.67" x2="764.20" y2="10.08" stroke-width="4.4"/>
<line x1="119.30" y1="403.30" x2="124.15" y2="403.30"/>
<line x1="777.40" y1="403.30" x2="772.55" y2="403.30"/>
<line x1="119.30" y1="388.48" x2="127.15" y2="388.48"/>
<line x1="777.40" y1="388.48" x2="769.55" y2="388.48"/>
<line x1="119.30" y1="373.66" x2="124.15" y2="373.66"/>
<line x1="777.40" y1="373.66" x2="772.55" y2="373.66"/>
<line x1="119.30" y1="358.84" x2="124.15" y2="358.84"/>
<line x1="777.40" y1="358.84" x2="772.55" y2="358.84"/>
<line x1="119.30" y1="344.02" x2="124.15" y2="344.02"/>
<line x1="777.40" y1="344.02" x2="772.55" y2="344.02"/>
<line x1="119.30" y1="329.20" x2="124.15" y2="329.20"/>
<line x1="777.40" y1="329.20" x2="772.55" y2="329.20"/>
<line x1="119.30" y1="314.38" x2="127.15" y2="314.38"/>
<line x1="777.40" y1="314.38" x2="769.55" y2="314.38"/>
<line x1="119.30" y1="299.56" x2="124.15" y2="299.56"/>
<line x1="777.40" y1="299.56" x2="772.55" y2="299.56"/>
<line x1="119.30" y1="284.74" x2="124.15" y2="284.74"/>
<line x1="777.40" y1="284.74" x2="772.55" y2="284.74"/>
<line x1="119.30" y1="269.92" x2="124.15" y2="269.92"/>
<line x1="777.40" y1="269.92" x2="772.55" y2="269.92"/>
<line x1="119.30" y1="255.10" x2="124.15" y2="255.10"/>
<line x1="777.40" y1="255.10" x2="772.55" y2="255.10"/>
<line x1="119.30" y1="240.28" x2="127.15" y2="240.28"/>
<line x1="777.40" y1="240.28" x2="769.55" y2="240.28"/>
<line x1="119.30" y1="225.46" x2="124.15" y2="225.46"/>
<line x1="777.40" y1="225.46" x2="772.55" y2="225.46"/>
<line x1="119.30" y1="210.64" x2="124.15" y2="210.64"/>
<line x1="777.40" y1="210.64" x2="772.55" y2="210.64"/>
<line x1="119.30" y1="195.82" x2="124.15" y2="195.82"/>
<line x1="777.40" y1="195.82" x2="772.55" y2="195.82"/>
<line x1="119.30" y1="181.00" x2="124.15" y2="181.00"/>
<line x1="777.40" y1="181.00" x2="772.55" y2="181.00"/>
<line x1="119.30" y1="166.18" x2="127.15" y2="166.18"/>
<line x1="777.40" y1="166.18" x2="769.55" y2="166.18"/>
<line x1="119.30" y1="151.35" x2="124.15" y2="151.35"/>
<line x1="777.40" y1="151.35" x2="772.55" y2="151.35"/>
<line x1="119.30" y1="136.53" x2="124.15" y2="136.53"/>
<line x1="777.40" y1="136.53" x2="772.55" y2="136.53"/>
<line x1="119.30" y1="121.71" x2="124.15" y2="121.71"/>
<line x1="777.40" y1="121.71" x2="772.55" y2="121.71"/>
<line x1="119.30" y1="106.89" x2="124.15" y2="106.89"/>
<line x1="777.40" y1="106.89" x2="772.55" y2="106.89"/>
<line x1="119.30" y1="92.07" x2="127.15" y2="92.07"/>
<line x1="777.40" y1="92.07" x2="769.55" y2="92.07"/>
<line x1="119.30" y1="77.25" x2="124.15" y2="77.25"/>
<line x1="777.40" y1="77.25" x2="772.55" y2="77.25"/>
<line x1="119.30" y1="62.43" x2="124.15" y2="62.43"/>
<line x1="777.40" y1="62.43" x2="772.55" y2="62.43"/>
<line x1="119.30" y1="47.61" x2="124.15" y2="47.61"/>
<line x1="777.40" y1="47.61" x2="772.55" y2="47.61"/>
<line x1="119.30" y1="32.79" x2="124.15" y2="32.79"/>
<line x1="777.40" y1="32.79" x2="772.55" y2="32.79"/>
<line x1="119.30" y1="17.97" x2="127.15" y2="17.97"/>
<line x1="777.40" y1="17.97" x2="769.55" y2="17.97"/>
<line x1="119.30" y1="3.15" x2="124.15" y2="3.15"/>
<line x1="777.40" y1="3.15" x2="772.55" y2="3.15"/>
</g>
<g font-weight="bold" font-size="33.00">
<text transform="translate(112.5 399.72) scale(0.935 1)" text-anchor="end">0.00</text>
<text transform="translate(112.5 325.62) scale(0.935 1)" text-anchor="end">0.05</text>
<text transform="translate(112.5 251.52) scale(0.935 1)" text-anchor="end">0.10</text>
<text transform="translate(112.5 177.42) scale(0.935 1)" text-anchor="end">0.15</text>
<text transform="translate(112.5 103.32) scale(0.935 1)" text-anchor="end">0.20</text>
<text transform="translate(112.5 29.22) scale(0.935 1)" text-anchor="end">0.25</text>
<text transform="translate(132.50 444.15) scale(0.935 1)" text-anchor="middle">0.0</text>
<text transform="translate(258.84 444.15) scale(0.935 1)" text-anchor="middle">0.2</text>
<text transform="translate(385.18 444.15) scale(0.935 1)" text-anchor="middle">0.4</text>
<text transform="translate(511.52 444.15) scale(0.935 1)" text-anchor="middle">0.6</text>
<text transform="translate(637.86 444.15) scale(0.935 1)" text-anchor="middle">0.8</text>
<text transform="translate(764.20 444.15) scale(0.935 1)" text-anchor="middle">1.0</text>
</g>
<g clip-path="url(#ci)" fill="none" stroke-width="4.20">
<path d="M295.15 370.82 L296.13 369.84 L297.12 368.86 L298.10 367.88 L299.09 366.91 L300.07 365.94 L301.06 364.98 L302.04 364.02 L303.03 363.07 L304.01 362.12 L305.00 361.18 L305.99 360.24 L306.97 359.31 L307.95 358.38 L308.94 357.46 L309.92 356.54 L310.91 355.63 L311.89 354.72 L312.88 353.81 L313.86 352.91 L314.85 352.02 L315.83 351.13 L316.82 350.24 L317.80 349.36 L318.79 348.49 L319.77 347.62 L320.76 346.75 L321.74 345.89 L322.73 345.04 L323.71 344.19 L324.70 343.34 L325.69 342.50 L326.67 341.66 L327.65 340.83 L328.64 340.01 L329.62 339.19 L330.61 338.37 L331.59 337.56 L332.58 336.75 L333.56 335.95 L334.55 335.15 L335.53 334.36 L336.52 333.57 L337.50 332.79 L338.49 332.01 L339.47 331.24 L340.46 330.47 L341.44 329.71 L342.43 328.95 L343.41 328.20 L344.40 327.45 L345.38 326.70 L346.37 325.96 L347.35 325.23 L348.34 324.50 L349.32 323.77 L350.31 323.05 L351.29 322.33 L352.28 321.62 L353.26 320.91 L354.25 320.21 L355.23 319.51 L356.22 318.82 L357.20 318.13 L358.19 317.44 L359.17 316.76 L360.16 316.09 L361.14 315.41 L362.13 314.75 L363.11 314.08 L364.10 313.42 L365.08 312.77 L366.07 312.12 L367.05 311.47 L368.04 310.83 L369.02 310.19 L370.01 309.56 L370.99 308.93 L371.98 308.30 L372.96 307.68 L373.95 307.07 L374.93 306.45 L375.92 305.84 L376.90 305.24 L377.89 304.64 L378.88 304.04 L379.86 303.45 L380.84 302.86 L381.83 302.27 L382.81 301.69 L383.80 301.12 L384.78 300.54 L385.77 299.97 L386.75 299.41 L387.74 298.84 L388.72 298.29 L389.71 297.73 L390.69 297.18 L391.68 296.63 L392.66 296.09 L393.65 295.55 L394.63 295.01 L395.62 294.48 L396.61 293.95 L397.59 293.43 L398.57 292.90 L399.56 292.38 L400.54 291.87 L401.53 291.36 L402.51 290.85 L403.50 290.34 L404.49 289.84 L405.47 289.34 L406.45 288.85 L407.44 288.36 L408.42 287.87 L409.41 287.38 L410.39 286.90 L411.38 286.42 L412.36 285.95 L413.35 285.48 L414.34 285.01 L415.32 284.54 L416.30 284.08 L417.29 283.62 L418.27 283.16 L419.26 282.71 L420.25 282.26 L421.23 281.81 L422.21 281.36 L423.20 280.92 L424.19 280.48 L425.17 280.05 L426.15 279.62 L427.14 279.19 L428.12 278.76 L429.11 278.33 L430.09 277.91 L431.08 277.49 L432.06 277.08 L433.05 276.66 L434.03 276.25 L435.02 275.85 L436.00 275.44 L436.99 275.04 L437.97 274.64 L438.96 274.24 L439.94 273.85 L440.93 273.45 L441.91 273.06 L442.90 272.68 L443.88 272.29 L444.87 271.91 L445.85 271.53 L446.84 271.16 L447.82 270.78 L448.81 270.41 L449.79 270.04 L450.78 269.67 L451.76 269.31 L452.75 268.95 L453.73 268.59 L454.72 268.23 L455.70 267.87 L456.69 267.52 L457.67 267.17 L458.66 266.82 L459.64 266.48 L460.63 266.13 L461.61 265.79 L462.60 265.45 L463.58 265.11 L464.57 264.78 L465.55 264.45 L466.54 264.11 L467.52 263.79 L468.51 263.46 L469.49 263.14 L470.48 262.81 L471.46 262.49 L472.45 262.17 L473.43 261.86 L474.42 261.54 L475.40 261.23 L476.39 260.92 L477.37 260.61 L478.36 260.31 L479.34 260.00 L480.33 259.70 L481.31 259.40 L482.30 259.10 L483.28 258.80 L484.27 258.51 L485.25 258.22 L486.24 257.93 L487.22 257.64 L488.21 257.35 L489.19 257.06 L490.18 256.78 L491.16 256.50 L492.15 256.22" stroke="#0000ff" stroke-dasharray="2.6 8.45 9.3 8.2" stroke-dashoffset="-8.4"/>
<path d="M295.15 347.90 L296.13 346.89 L297.12 345.89 L298.10 344.89 L299.09 343.91 L300.07 342.92 L301.06 341.95 L302.04 340.98 L303.03 340.02 L304.01 339.06 L305.00 338.11 L305.99 337.17 L306.97 336.23 L307.95 335.30 L308.94 334.38 L309.92 333.46 L310.91 332.55 L311.89 331.65 L312.88 330.75 L313.86 329.86 L314.85 328.98 L315.83 328.10 L316.82 327.23 L317.80 326.36 L318.79 325.51 L319.77 324.65 L320.76 323.81 L321.74 322.97 L322.73 322.13 L323.71 321.31 L324.70 320.49 L325.69 319.67 L326.67 318.86 L327.65 318.06 L328.64 317.26 L329.62 316.47 L330.61 315.68 L331.59 314.91 L332.58 314.13 L333.56 313.37 L334.55 312.60 L335.53 311.85 L336.52 311.10 L337.50 310.35 L338.49 309.61 L339.47 308.88 L340.46 308.15 L341.44 307.43 L342.43 306.72 L343.41 306.01 L344.40 305.30 L345.38 304.60 L346.37 303.91 L347.35 303.22 L348.34 302.53 L349.32 301.86 L350.31 301.18 L351.29 300.51 L352.28 299.85 L353.26 299.19 L354.25 298.54 L355.23 297.89 L356.22 297.25 L357.20 296.61 L358.19 295.98 L359.17 295.35 L360.16 294.73 L361.14 294.11 L362.13 293.50 L363.11 292.89 L364.10 292.29 L365.08 291.69 L366.07 291.09 L367.05 290.50 L368.04 289.92 L369.02 289.34 L370.01 288.76 L370.99 288.19 L371.98 287.62 L372.96 287.06 L373.95 286.50 L374.93 285.95 L375.92 285.40 L376.90 284.85 L377.89 284.31 L378.88 283.78 L379.86 283.24 L380.84 282.71 L381.83 282.19 L382.81 281.67 L383.80 281.15 L384.78 280.64 L385.77 280.13 L386.75 279.63 L387.74 279.13 L388.72 278.63 L389.71 278.14 L390.69 277.65 L391.68 277.16 L392.66 276.68 L393.65 276.20 L394.63 275.73 L395.62 275.26 L396.61 274.79 L397.59 274.33 L398.57 273.87 L399.56 273.41 L400.54 272.96 L401.53 272.51 L402.51 272.06 L403.50 271.62 L404.49 271.18 L405.47 270.75 L406.45 270.31 L407.44 269.88 L408.42 269.46 L409.41 269.04 L410.39 268.62 L411.38 268.20 L412.36 267.79 L413.35 267.38 L414.34 266.97 L415.32 266.57 L416.30 266.16 L417.29 265.77 L418.27 265.37 L419.26 264.98 L420.25 264.59 L421.23 264.20 L422.21 263.82 L423.20 263.44 L424.19 263.06 L425.17 262.69 L426.15 262.32 L427.14 261.95 L428.12 261.58 L429.11 261.22 L430.09 260.86 L431.08 260.50 L432.06 260.14 L433.05 259.79 L434.03 259.44 L435.02 259.09 L436.00 258.75 L436.99 258.40 L437.97 258.06 L438.96 257.73 L439.94 257.39 L440.93 257.06 L441.91 256.73 L442.90 256.40 L443.88 256.07 L444.87 255.75 L445.85 255.43 L446.84 255.11 L447.82 254.79 L448.81 254.48 L449.79 254.17 L450.78 253.86 L451.76 253.55 L452.75 253.25 L453.73 252.94 L454.72 252.64 L455.70 252.35 L456.69 252.05 L457.67 251.76 L458.66 251.46 L459.64 251.17 L460.63 250.88 L461.61 250.60 L462.60 250.31 L463.58 250.03 L464.57 249.75 L465.55 249.47 L466.54 249.20 L467.52 248.92 L468.51 248.65 L469.49 248.38 L470.48 248.11 L471.46 247.85 L472.45 247.58 L473.43 247.32 L474.42 247.06 L475.40 246.80 L476.39 246.54 L477.37 246.29 L478.36 246.03 L479.34 245.78 L480.33 245.53 L481.31 245.28 L482.30 245.04 L483.28 244.79 L484.27 244.55 L485.25 244.30 L486.24 244.06 L487.22 243.83 L488.21 243.59 L489.19 243.35 L490.18 243.12 L491.16 242.89 L492.15 242.66" stroke="#00aa00" stroke-dasharray="9.2 8.46" stroke-dashoffset="9.3"/>
<path d="M295.15 310.86 L296.13 309.91 L297.12 308.97 L298.10 308.04 L299.09 307.11 L300.07 306.20 L301.06 305.29 L302.04 304.40 L303.03 303.51 L304.01 302.63 L305.00 301.76 L305.99 300.90 L306.97 300.05 L307.95 299.20 L308.94 298.37 L309.92 297.54 L310.91 296.72 L311.89 295.91 L312.88 295.11 L313.86 294.31 L314.85 293.52 L315.83 292.74 L316.82 291.97 L317.80 291.21 L318.79 290.45 L319.77 289.70 L320.76 288.96 L321.74 288.23 L322.73 287.50 L323.71 286.78 L324.70 286.07 L325.69 285.36 L326.67 284.67 L327.65 283.98 L328.64 283.29 L329.62 282.61 L330.61 281.94 L331.59 281.28 L332.58 280.62 L333.56 279.97 L334.55 279.33 L335.53 278.69 L336.52 278.06 L337.50 277.43 L338.49 276.81 L339.47 276.20 L340.46 275.59 L341.44 274.99 L342.43 274.39 L343.41 273.80 L344.40 273.22 L345.38 272.64 L346.37 272.07 L347.35 271.50 L348.34 270.94 L349.32 270.38 L350.31 269.83 L351.29 269.29 L352.28 268.75 L353.26 268.21 L354.25 267.69 L355.23 267.16 L356.22 266.64 L357.20 266.13 L358.19 265.62 L359.17 265.11 L360.16 264.61 L361.14 264.12 L362.13 263.63 L363.11 263.14 L364.10 262.66 L365.08 262.19 L366.07 261.72 L367.05 261.25 L368.04 260.79 L369.02 260.33 L370.01 259.87 L370.99 259.43 L371.98 258.98 L372.96 258.54 L373.95 258.10 L374.93 257.67 L375.92 257.24 L376.90 256.81 L377.89 256.39 L378.88 255.98 L379.86 255.56 L380.84 255.15 L381.83 254.75 L382.81 254.35 L383.80 253.95 L384.78 253.56 L385.77 253.16 L386.75 252.78 L387.74 252.39 L388.72 252.01 L389.71 251.64 L390.69 251.26 L391.68 250.89 L392.66 250.53 L393.65 250.17 L394.63 249.81 L395.62 249.45 L396.61 249.10 L397.59 248.75 L398.57 248.40 L399.56 248.05 L400.54 247.71 L401.53 247.38 L402.51 247.04 L403.50 246.71 L404.49 246.38 L405.47 246.05 L406.45 245.73 L407.44 245.41 L408.42 245.09 L409.41 244.78 L410.39 244.47 L411.38 244.16 L412.36 243.85 L413.35 243.55 L414.34 243.25 L415.32 242.95 L416.30 242.65 L417.29 242.36 L418.27 242.07 L419.26 241.78 L420.25 241.49 L421.23 241.21 L422.21 240.93 L423.20 240.65 L424.19 240.38 L425.17 240.10 L426.15 239.83 L427.14 239.56 L428.12 239.29 L429.11 239.03 L430.09 238.77 L431.08 238.51 L432.06 238.25 L433.05 237.99 L434.03 237.74 L435.02 237.49 L436.00 237.24 L436.99 236.99 L437.97 236.75 L438.96 236.50 L439.94 236.26 L440.93 236.02 L441.91 235.78 L442.90 235.55 L443.88 235.32 L444.87 235.08 L445.85 234.85 L446.84 234.63 L447.82 234.40 L448.81 234.18 L449.79 233.95 L450.78 233.73 L451.76 233.51 L452.75 233.30 L453.73 233.08 L454.72 232.87 L455.70 232.66 L456.69 232.45 L457.67 232.24 L458.66 232.03 L459.64 231.83 L460.63 231.62 L461.61 231.42 L462.60 231.22 L463.58 231.02 L464.57 230.82 L465.55 230.63 L466.54 230.43 L467.52 230.24 L468.51 230.05 L469.49 229.86 L470.48 229.67 L471.46 229.49 L472.45 229.30 L473.43 229.12 L474.42 228.93 L475.40 228.75 L476.39 228.57 L477.37 228.39 L478.36 228.22 L479.34 228.04 L480.33 227.87 L481.31 227.69 L482.30 227.52 L483.28 227.35 L484.27 227.18 L485.25 227.02 L486.24 226.85 L487.22 226.68 L488.21 226.52 L489.19 226.36 L490.18 226.19 L491.16 226.03 L492.15 225.87" stroke="#00aaaa" stroke-dasharray="9.2 8.46" stroke-dashoffset="6.9"/>
<path d="M295.15 362.73 L296.13 361.73 L297.12 360.74 L298.10 359.75 L299.09 358.77 L300.07 357.79 L301.06 356.82 L302.04 355.85 L303.03 354.89 L304.01 353.94 L305.00 352.99 L305.99 352.04 L306.97 351.10 L307.95 350.17 L308.94 349.24 L309.92 348.32 L310.91 347.40 L311.89 346.49 L312.88 345.58 L313.86 344.68 L314.85 343.79 L315.83 342.90 L316.82 342.01 L317.80 341.13 L318.79 340.26 L319.77 339.39 L320.76 338.53 L321.74 337.67 L322.73 336.82 L323.71 335.97 L324.70 335.13 L325.69 334.29 L326.67 333.46 L327.65 332.64 L328.64 331.82 L329.62 331.00 L330.61 330.19 L331.59 329.39 L332.58 328.59 L333.56 327.80 L334.55 327.01 L335.53 326.23 L336.52 325.45 L337.50 324.68 L338.49 323.91 L339.47 323.15 L340.46 322.39 L341.44 321.64 L342.43 320.89 L343.41 320.15 L344.40 319.41 L345.38 318.68 L346.37 317.95 L347.35 317.23 L348.34 316.51 L349.32 315.80 L350.31 315.09 L351.29 314.39 L352.28 313.69 L353.26 313.00 L354.25 312.31 L355.23 311.63 L356.22 310.95 L357.20 310.28 L358.19 309.61 L359.17 308.94 L360.16 308.28 L361.14 307.63 L362.13 306.98 L363.11 306.33 L364.10 305.69 L365.08 305.05 L366.07 304.42 L367.05 303.79 L368.04 303.16 L369.02 302.54 L370.01 301.93 L370.99 301.32 L371.98 300.71 L372.96 300.11 L373.95 299.51 L374.93 298.92 L375.92 298.33 L376.90 297.74 L377.89 297.16 L378.88 296.58 L379.86 296.01 L380.84 295.44 L381.83 294.87 L382.81 294.31 L383.80 293.75 L384.78 293.20 L385.77 292.65 L386.75 292.11 L387.74 291.56 L388.72 291.03 L389.71 290.49 L390.69 289.96 L391.68 289.43 L392.66 288.91 L393.65 288.39 L394.63 287.88 L395.62 287.36 L396.61 286.86 L397.59 286.35 L398.57 285.85 L399.56 285.35 L400.54 284.86 L401.53 284.37 L402.51 283.88 L403.50 283.39 L404.49 282.91 L405.47 282.44 L406.45 281.96 L407.44 281.49 L408.42 281.03 L409.41 280.56 L410.39 280.10 L411.38 279.64 L412.36 279.19 L413.35 278.74 L414.34 278.29 L415.32 277.85 L416.30 277.40 L417.29 276.97 L418.27 276.53 L419.26 276.10 L420.25 275.67 L421.23 275.24 L422.21 274.82 L423.20 274.40 L424.19 273.98 L425.17 273.57 L426.15 273.15 L427.14 272.75 L428.12 272.34 L429.11 271.94 L430.09 271.54 L431.08 271.14 L432.06 270.74 L433.05 270.35 L434.03 269.96 L435.02 269.57 L436.00 269.19 L436.99 268.81 L437.97 268.43 L438.96 268.05 L439.94 267.68 L440.93 267.31 L441.91 266.94 L442.90 266.57 L443.88 266.21 L444.87 265.85 L445.85 265.49 L446.84 265.13 L447.82 264.78 L448.81 264.43 L449.79 264.08 L450.78 263.73 L451.76 263.39 L452.75 263.05 L453.73 262.71 L454.72 262.37 L455.70 262.03 L456.69 261.70 L457.67 261.37 L458.66 261.04 L459.64 260.72 L460.63 260.39 L461.61 260.07 L462.60 259.75 L463.58 259.43 L464.57 259.12 L465.55 258.80 L466.54 258.49 L467.52 258.18 L468.51 257.88 L469.49 257.57 L470.48 257.27 L471.46 256.97 L472.45 256.67 L473.43 256.37 L474.42 256.08 L475.40 255.78 L476.39 255.49 L477.37 255.20 L478.36 254.92 L479.34 254.63 L480.33 254.35 L481.31 254.07 L482.30 253.79 L483.28 253.51 L484.27 253.23 L485.25 252.96 L486.24 252.68 L487.22 252.41 L488.21 252.14 L489.19 251.88 L490.18 251.61 L491.16 251.35 L492.15 251.08" stroke="#ff0000"/>
</g>
<rect x="295.15" y="206.87" width="197.05" height="121.61" fill="none" stroke="#000" stroke-width="4.30"/>
<g stroke="#000" fill="none">
<line x1="295.15" y1="328.48" x2="295.15" y2="322.64" stroke-width="3.9"/>
<line x1="295.15" y1="206.87" x2="295.15" y2="212.70" stroke-width="3.9"/>
<line x1="305.00" y1="328.48" x2="305.00" y2="324.76" stroke-width="3.6"/>
<line x1="305.00" y1="206.87" x2="305.00" y2="210.58" stroke-width="3.6"/>
<line x1="314.85" y1="328.48" x2="314.85" y2="324.76" stroke-width="3.6"/>
<line x1="314.85" y1="206.87" x2="314.85" y2="210.58" stroke-width="3.6"/>
<line x1="324.70" y1="328.48" x2="324.70" y2="324.76" stroke-width="3.6"/>
<line x1="324.70" y1="206.87" x2="324.70" y2="210.58" stroke-width="3.6"/>
<line x1="334.55" y1="328.48" x2="334.55" y2="324.76" stroke-width="3.6"/>
<line x1="334.55" y1="206.87" x2="334.55" y2="210.58" stroke-width="3.6"/>
<line x1="344.40" y1="328.48" x2="344.40" y2="322.64" stroke-width="3.9"/>
<line x1="344.40" y1="206.87" x2="344.40" y2="212.70" stroke-width="3.9"/>
<line x1="354.25" y1="328.48" x2="354.25" y2="324.76" stroke-width="3.6"/>
<line x1="354.25" y1="206.87" x2="354.25" y2="210.58" stroke-width="3.6"/>
<line x1="364.10" y1="328.48" x2="364.10" y2="324.76" stroke-width="3.6"/>
<line x1="364.10" y1="206.87" x2="364.10" y2="210.58" stroke-width="3.6"/>
<line x1="373.95" y1="328.48" x2="373.95" y2="324.76" stroke-width="3.6"/>
<line x1="373.95" y1="206.87" x2="373.95" y2="210.58" stroke-width="3.6"/>
<line x1="383.80" y1="328.48" x2="383.80" y2="324.76" stroke-width="3.6"/>
<line x1="383.80" y1="206.87" x2="383.80" y2="210.58" stroke-width="3.6"/>
<line x1="393.65" y1="328.48" x2="393.65" y2="322.64" stroke-width="3.9"/>
<line x1="393.65" y1="206.87" x2="393.65" y2="212.70" stroke-width="3.9"/>
<line x1="403.50" y1="328.48" x2="403.50" y2="324.76" stroke-width="3.6"/>
<line x1="403.50" y1="206.87" x2="403.50" y2="210.58" stroke-width="3.6"/>
<line x1="413.35" y1="328.48" x2="413.35" y2="324.76" stroke-width="3.6"/>
<line x1="413.35" y1="206.87" x2="413.35" y2="210.58" stroke-width="3.6"/>
<line x1="423.20" y1="328.48" x2="423.20" y2="324.76" stroke-width="3.6"/>
<line x1="423.20" y1="206.87" x2="423.20" y2="210.58" stroke-width="3.6"/>
<line x1="433.05" y1="328.48" x2="433.05" y2="324.76" stroke-width="3.6"/>
<line x1="433.05" y1="206.87" x2="433.05" y2="210.58" stroke-width="3.6"/>
<line x1="442.90" y1="328.48" x2="442.90" y2="322.64" stroke-width="3.9"/>
<line x1="442.90" y1="206.87" x2="442.90" y2="212.70" stroke-width="3.9"/>
<line x1="452.75" y1="328.48" x2="452.75" y2="324.76" stroke-width="3.6"/>
<line x1="452.75" y1="206.87" x2="452.75" y2="210.58" stroke-width="3.6"/>
<line x1="462.60" y1="328.48" x2="462.60" y2="324.76" stroke-width="3.6"/>
<line x1="462.60" y1="206.87" x2="462.60" y2="210.58" stroke-width="3.6"/>
<line x1="472.45" y1="328.48" x2="472.45" y2="324.76" stroke-width="3.6"/>
<line x1="472.45" y1="206.87" x2="472.45" y2="210.58" stroke-width="3.6"/>
<line x1="482.30" y1="328.48" x2="482.30" y2="324.76" stroke-width="3.6"/>
<line x1="482.30" y1="206.87" x2="482.30" y2="210.58" stroke-width="3.6"/>
<line x1="492.15" y1="328.48" x2="492.15" y2="322.64" stroke-width="3.9"/>
<line x1="492.15" y1="206.87" x2="492.15" y2="212.70" stroke-width="3.9"/>
<line x1="295.15" y1="328.57" x2="301.30" y2="328.57" stroke-width="4.0"/>
<line x1="492.20" y1="328.57" x2="486.05" y2="328.57" stroke-width="4.0"/>
<line x1="295.15" y1="322.50" x2="299.20" y2="322.50" stroke-width="3.7"/>
<line x1="492.20" y1="322.50" x2="488.15" y2="322.50" stroke-width="3.7"/>
<line x1="295.15" y1="316.42" x2="299.20" y2="316.42" stroke-width="3.7"/>
<line x1="492.20" y1="316.42" x2="488.15" y2="316.42" stroke-width="3.7"/>
<line x1="295.15" y1="310.35" x2="299.20" y2="310.35" stroke-width="3.7"/>
<line x1="492.20" y1="310.35" x2="488.15" y2="310.35" stroke-width="3.7"/>
<line x1="295.15" y1="304.28" x2="301.30" y2="304.28" stroke-width="4.0"/>
<line x1="492.20" y1="304.28" x2="486.05" y2="304.28" stroke-width="4.0"/>
<line x1="295.15" y1="298.20" x2="299.20" y2="298.20" stroke-width="3.7"/>
<line x1="492.20" y1="298.20" x2="488.15" y2="298.20" stroke-width="3.7"/>
<line x1="295.15" y1="292.13" x2="299.20" y2="292.13" stroke-width="3.7"/>
<line x1="492.20" y1="292.13" x2="488.15" y2="292.13" stroke-width="3.7"/>
<line x1="295.15" y1="286.06" x2="299.20" y2="286.06" stroke-width="3.7"/>
<line x1="492.20" y1="286.06" x2="488.15" y2="286.06" stroke-width="3.7"/>
<line x1="295.15" y1="279.98" x2="301.30" y2="279.98" stroke-width="4.0"/>
<line x1="492.20" y1="279.98" x2="486.05" y2="279.98" stroke-width="4.0"/>
<line x1="295.15" y1="273.91" x2="299.20" y2="273.91" stroke-width="3.7"/>
<line x1="492.20" y1="273.91" x2="488.15" y2="273.91" stroke-width="3.7"/>
<line x1="295.15" y1="267.83" x2="299.20" y2="267.83" stroke-width="3.7"/>
<line x1="492.20" y1="267.83" x2="488.15" y2="267.83" stroke-width="3.7"/>
<line x1="295.15" y1="261.76" x2="299.20" y2="261.76" stroke-width="3.7"/>
<line x1="492.20" y1="261.76" x2="488.15" y2="261.76" stroke-width="3.7"/>
<line x1="295.15" y1="255.69" x2="301.30" y2="255.69" stroke-width="4.0"/>
<line x1="492.20" y1="255.69" x2="486.05" y2="255.69" stroke-width="4.0"/>
<line x1="295.15" y1="249.61" x2="299.20" y2="249.61" stroke-width="3.7"/>
<line x1="492.20" y1="249.61" x2="488.15" y2="249.61" stroke-width="3.7"/>
<line x1="295.15" y1="243.54" x2="299.20" y2="243.54" stroke-width="3.7"/>
<line x1="492.20" y1="243.54" x2="488.15" y2="243.54" stroke-width="3.7"/>
<line x1="295.15" y1="237.47" x2="299.20" y2="237.47" stroke-width="3.7"/>
<line x1="492.20" y1="237.47" x2="488.15" y2="237.47" stroke-width="3.7"/>
<line x1="295.15" y1="231.39" x2="301.30" y2="231.39" stroke-width="4.0"/>
<line x1="492.20" y1="231.39" x2="486.05" y2="231.39" stroke-width="4.0"/>
<line x1="295.15" y1="225.32" x2="299.20" y2="225.32" stroke-width="3.7"/>
<line x1="492.20" y1="225.32" x2="488.15" y2="225.32" stroke-width="3.7"/>
<line x1="295.15" y1="219.24" x2="299.20" y2="219.24" stroke-width="3.7"/>
<line x1="492.20" y1="219.24" x2="488.15" y2="219.24" stroke-width="3.7"/>
<line x1="295.15" y1="213.17" x2="299.20" y2="213.17" stroke-width="3.7"/>
<line x1="492.20" y1="213.17" x2="488.15" y2="213.17" stroke-width="3.7"/>
<line x1="295.15" y1="207.10" x2="301.30" y2="207.10" stroke-width="4.0"/>
<line x1="492.20" y1="207.10" x2="486.05" y2="207.10" stroke-width="4.0"/>
</g>
<g font-weight="bold" font-size="20.96">
<text transform="translate(288.4 335.76) scale(0.935 1)" text-anchor="end">0.14</text>
<text transform="translate(288.4 311.47) scale(0.935 1)" text-anchor="end">0.16</text>
<text transform="translate(288.4 287.17) scale(0.935 1)" text-anchor="end">0.18</text>
<text transform="translate(288.4 262.88) scale(0.935 1)" text-anchor="end">0.20</text>
<text transform="translate(288.4 238.58) scale(0.935 1)" text-anchor="end">0.22</text>
<text transform="translate(288.4 214.29) scale(0.935 1)" text-anchor="end">0.24</text>
<text transform="translate(295.15 353.18) scale(0.935 1)" text-anchor="middle">0.15</text>
<text transform="translate(344.40 353.18) scale(0.935 1)" text-anchor="middle">0.20</text>
<text transform="translate(393.65 353.18) scale(0.935 1)" text-anchor="middle">0.25</text>
<text transform="translate(442.90 353.18) scale(0.935 1)" text-anchor="middle">0.30</text>
<text transform="translate(492.15 353.18) scale(0.935 1)" text-anchor="middle">0.35</text>
</g>
<g fill="none" stroke-width="4.10">
<line x1="574.7" y1="240.18" x2="634.6" y2="240.18" stroke="#0000ff" stroke-dasharray="2.6 8.45 9.3 8.2"/>
<line x1="572.1" y1="269.68" x2="640.2" y2="269.68" stroke="#ff0000"/>
<line x1="574.4" y1="299.45" x2="636.5" y2="299.45" stroke="#00aa00" stroke-dasharray="9.2 8.46"/>
<line x1="574.4" y1="329.03" x2="636.5" y2="329.03" stroke="#00aaaa" stroke-dasharray="9.2 8.46"/>
</g>
<g font-size="18.4">
<text transform="translate(682.2 244.24) scale(1.07 1)" text-anchor="middle" xml:space="preserve"><tspan font-style="italic">β</tspan>=+1.0</text>
<text transform="translate(682.2 273.55) scale(1.07 1)" text-anchor="middle" xml:space="preserve"><tspan font-style="italic">β</tspan>= 0.0</text>
<text transform="translate(682.2 303.50) scale(1.07 1)" text-anchor="middle" xml:space="preserve"><tspan font-style="italic">β</tspan>=−1.0</text>
<text transform="translate(682.2 333.09) scale(1.07 1)" text-anchor="middle" xml:space="preserve"><tspan font-style="italic">β</tspan>=−5.0</text>
</g>
<g font-weight="bold" font-size="30.4">
<text transform="translate(25.00 375.58) rotate(-90) scale(0.793 1)">C</text>
<text transform="translate(25.00 356.13) rotate(-90)" textLength="150.69" lengthAdjust="spacingAndGlyphs">onversion</text>
<text transform="translate(25.00 197.05) rotate(-90)" textLength="95.39" lengthAdjust="spacingAndGlyphs">Factor</text>
<text transform="translate(25.00 94.56) rotate(-90) scale(1.003 1)">(</text>
<text transform="translate(25.00 81.11) rotate(-90) scale(0.793 1)">C</text>
<text transform="translate(25.00 62.21) rotate(-90) scale(0.879 1)">F</text>
<text transform="translate(25.00 45.44) rotate(-90) scale(1.098 1)">)</text>
</g>
<text transform="translate(415.0 494.56) scale(1.18 1)" font-weight="bold" font-size="30">M</text>
<text x="441.2" y="494.56" font-weight="bold" font-size="30">Δ</text>
<text x="462.2" y="500.09" font-style="italic" font-size="22.5" stroke="#000" stroke-width="0.9">M</text>
</g>
</svg></body></html>
